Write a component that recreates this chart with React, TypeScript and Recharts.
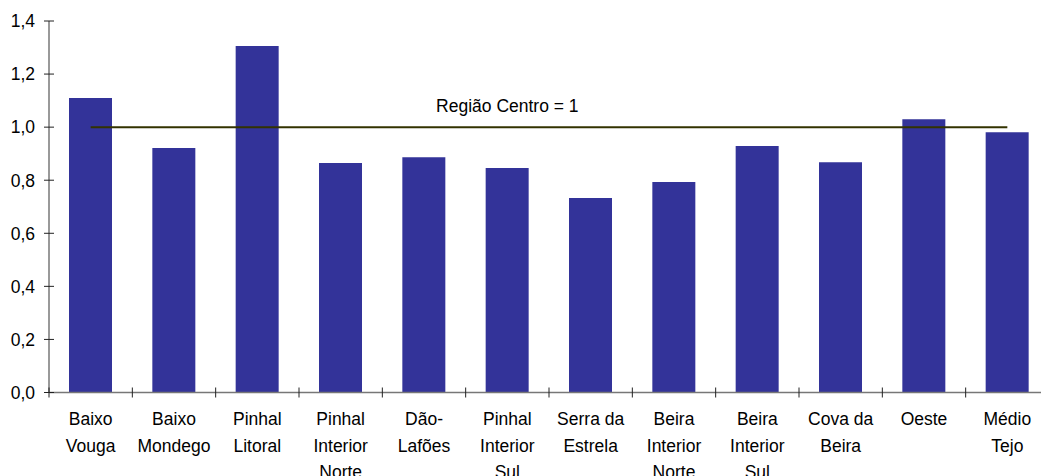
import React from "react";
import { ComposedChart, Bar, Line, XAxis, YAxis, LabelList } from "recharts";

const categories = [
  "Baixo\nVouga",
  "Baixo\nMondego",
  "Pinhal\nLitoral",
  "Pinhal\nInterior\nNorte",
  "Dão-\nLafões",
  "Pinhal\nInterior\nSul",
  "Serra da\nEstrela",
  "Beira\nInterior\nNorte",
  "Beira\nInterior\nSul",
  "Cova da\nBeira",
  "Oeste",
  "Médio\nTejo",
];
const indexValues = [1.11, 0.921, 1.306, 0.865, 0.887, 0.846, 0.733, 0.793, 0.929, 0.868, 1.03, 0.981];
const centroValue = 1;
const centroLabel = "Região Centro = 1";
const centroLabelIndex = 5;
const yTicks = [0, 0.2, 0.4, 0.6, 0.8, 1.0, 1.2, 1.4];

const data = categories.map((c, i) => ({
  name: c,
  value: indexValues[i],
  centro: centroValue,
}));

const FONT = "'Liberation Sans', Arial, sans-serif";
const FS = 17.5;
const CHART_W = 1070;
const CHART_H = 476;
const MARGIN = { top: 21, right: 21, bottom: 0, left: 0 };
const Y_W = 49;
const BAND = (CHART_W - MARGIN.left - MARGIN.right - Y_W) / categories.length;

const YTick = (props: any) => {
  const { x, y, payload } = props;
  return (
    <g>
      <line x1={x - 5} x2={x + 5} y1={y} y2={y} stroke="#222" strokeWidth={1} />
      <text x={x - 14} y={y} dy="0.36em" textAnchor="end" fontSize={FS} fontFamily={FONT} fill="#000">
        {Number(payload.value).toFixed(1).replace(".", ",")}
      </text>
    </g>
  );
};

const XTick = (props: any) => {
  const { x, y, payload, index } = props;
  const lines = String(payload.value).split("\n");
  const bx = x - BAND / 2;
  return (
    <g>
      <line x1={bx} x2={bx} y1={y - 5} y2={y + 5} stroke="#222" strokeWidth={1} />
      {index === categories.length - 1 && (
        <line x1={x + BAND / 2} x2={x + BAND / 2} y1={y - 5} y2={y + 5} stroke="#222" strokeWidth={1} />
      )}
      <text textAnchor="middle" fontSize={FS} fontFamily={FONT} fill="#000">
        {lines.map((l, i) => (
          <tspan key={i} x={x} y={y + 32.5 + i * 26.5}>
            {l}
          </tspan>
        ))}
      </text>
    </g>
  );
};

const CentroLabel = (props: any) => {
  const { x, y, index } = props;
  if (index !== centroLabelIndex) return null;
  return (
    <text x={x} y={y - 15.5} textAnchor="middle" fontSize={FS} fontFamily={FONT} fill="#000">
      {centroLabel}
    </text>
  );
};

export default function App() {
  return (
    <div
      style={{
        position: "fixed",
        left: 0,
        top: 0,
        width: 1041,
        height: 476,
        overflow: "hidden",
        background: "#fff",
      }}
    >
      <ComposedChart width={CHART_W} height={CHART_H} data={data} margin={MARGIN}>
        <XAxis
          dataKey="name"
          interval={0}
          height={CHART_H - 392.5 - MARGIN.bottom}
          tickLine={false}
          tickSize={0}
          tickMargin={0}
          axisLine={{ stroke: "#777", strokeWidth: 1.5 }}
          tick={<XTick />}
        />
        <YAxis
          width={Y_W}
          domain={[0, 1.4]}
          ticks={yTicks}
          interval={0}
          tickLine={false}
          tickSize={0}
          tickMargin={0}
          axisLine={{ stroke: "#777", strokeWidth: 1.5 }}
          tick={<YTick />}
        />
        <Bar dataKey="value" fill="#333399" barSize={43} isAnimationActive={false} />
        <Line
          dataKey="centro"
          stroke="#333300"
          strokeWidth={2}
          dot={false}
          activeDot={false}
          isAnimationActive={false}
        >
          <LabelList dataKey="centro" content={<CentroLabel />} />
        </Line>
      </ComposedChart>
    </div>
  );
}
